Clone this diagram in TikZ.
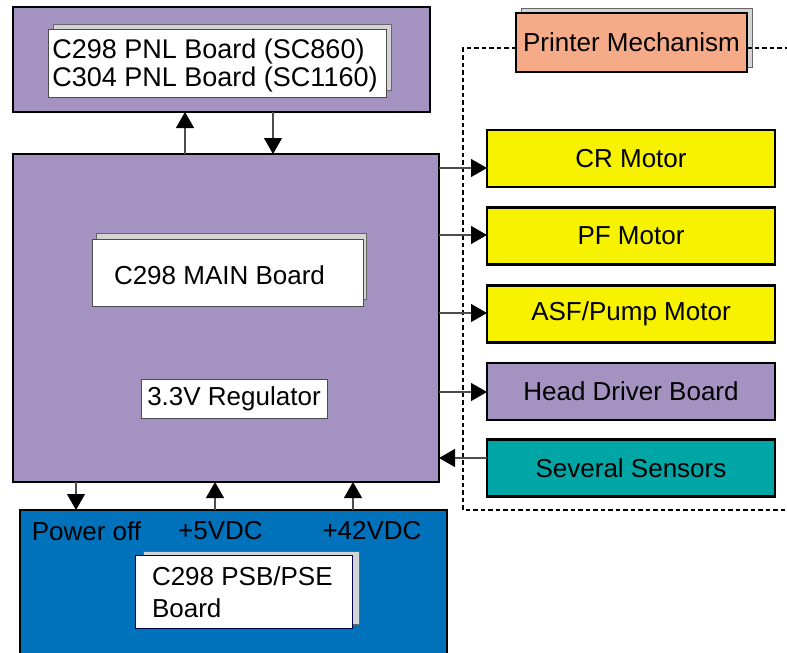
\documentclass[tikz,border=0pt]{standalone}
\usepackage{fontspec}
\setmainfont{Liberation Sans}
\usetikzlibrary{arrows.meta}
\definecolor{lav}{RGB}{164,147,193}
\definecolor{yel}{RGB}{247,242,0}
\definecolor{teal2}{RGB}{0,166,166}
\definecolor{salm}{RGB}{245,170,136}
\definecolor{blu}{RGB}{0,114,187}
\definecolor{shad}{RGB}{212,212,212}
\tikzset{
  x=1pt, y=-1pt,
  every node/.style={font=\fontsize{26}{28}\selectfont, inner sep=0pt, outer sep=0pt},
  bigbox/.style={draw=black, line width=2.4pt, rectangle},
  sidebox/.style={draw=black, line width=2.4pt, rectangle, minimum width=288pt, minimum height=57pt},
  backsheet/.style={draw=gray!80!black, line width=0.8pt, fill=shad, rectangle},
  frontsheet/.style={draw=gray!60!black, line width=0.8pt, fill=white, rectangle},
  arr/.style={draw=black!70, line width=1.1pt, -{Triangle[width=18pt,length=16pt,color=black]}},
  dashline/.style={draw=black, line width=2.8pt, dash pattern=on 4.5pt off 3pt},
}
\begin{document}
\begin{tikzpicture}
\useasboundingbox (0,0) rectangle (787,653);
\clip (0,0) rectangle (787,653);
% PNL board
\node[bigbox, fill=lav, minimum width=417pt, minimum height=105pt] (pnl) at (221.5,59.5) {};
\node[backsheet, minimum width=338pt, minimum height=66pt] (pnlb) at (222,57) {};
\node[frontsheet, minimum width=338pt, minimum height=68pt] (pnlf) at (217,63) {};
\node[align=left, font=\fontsize{27}{28}\selectfont] (pnlt) at (215,66) {C298 PNL Board (SC860)\\C304 PNL Board (SC1160)};
% Main board
\node[bigbox, fill=lav, minimum width=426pt, minimum height=328pt] (main) at (226,318) {};
\node[backsheet, minimum width=270pt, minimum height=66pt] (mainb) at (231,266) {};
\node[frontsheet, minimum width=271pt, minimum height=67pt] (mainf) at (227.5,272.5) {};
\node (maint) at (219.5,275) {C298 MAIN Board};
\node[frontsheet, minimum width=186pt, minimum height=39pt] (reg) at (234,398.5) {3.3V Regulator};
% Power supply
\node[bigbox, fill=blu, minimum width=427pt, minimum height=160pt] (psu) at (233.5,590) {};
\node (poff) at (86.5,531) {Power off};
\node (v5) at (220.5,531) {+5VDC};
\node (v42) at (372,531) {+42VDC};
\node[backsheet, minimum width=216pt, minimum height=73pt] (psbb) at (251,587.5) {};
\node[frontsheet, draw=blue!30!black, minimum width=217pt, minimum height=73pt] (psbf) at (243.5,591.5) {};
\node[anchor=west, align=left, font=\fontsize{26}{32}\selectfont] (psbt) at (152,592) {C298 PSB/PSE\\Board};
% Printer mechanism
\node[backsheet, minimum width=231pt, minimum height=59pt] (pmb) at (636.5,37.5) {};
\node[bigbox, fill=salm, minimum width=231pt, minimum height=59pt] (pm) at (631.5,42.5) {Printer Mechanism};
\coordinate (dTL) at (463,48);
\coordinate (dTR) at (787,48);
\coordinate (dBL) at (463,510);
\coordinate (dBR) at (787,510);
\draw[dashline] (pm.west |- dTL) -- (dTL) -- (dBL) -- (dBR);
\draw[dashline] (pm.east |- dTR) -- (dTR);
% right side boxes
\node[sidebox, fill=yel] (cr) at (631,158.5) {CR Motor};
\node[sidebox, fill=yel] (pf) at (631,236) {PF Motor};
\node[sidebox, fill=yel] (asf) at (631,314) {ASF/Pump Motor};
\node[sidebox, fill=lav] (head) at (631,391.5) {Head Driver Board};
\node[sidebox, fill=teal2] (sens) at (631,468) {Several Sensors};
% connectors
\draw[arr] (main.north -| 185,0) -- (pnl.south -| 185,0);
\draw[arr] (pnl.south -| 273,0) -- (main.north -| 273,0);
\draw[arr] (main.east |- 0,168) -- (cr.west |- 0,168);
\draw[arr] (main.east |- 0,235) -- (pf.west |- 0,235);
\draw[arr] (main.east |- 0,313) -- (asf.west |- 0,313);
\draw[arr] (main.east |- 0,392) -- (head.west |- 0,392);
\draw[arr] (sens.west |- 0,458) -- (main.east |- 0,458);
\draw[arr] (main.south -| 76,0) -- (psu.north -| 76,0);
\draw[arr] (psu.north -| 215,0) -- (main.south -| 215,0);
\draw[arr] (psu.north -| 353,0) -- (main.south -| 353,0);
\end{tikzpicture}
\end{document}
